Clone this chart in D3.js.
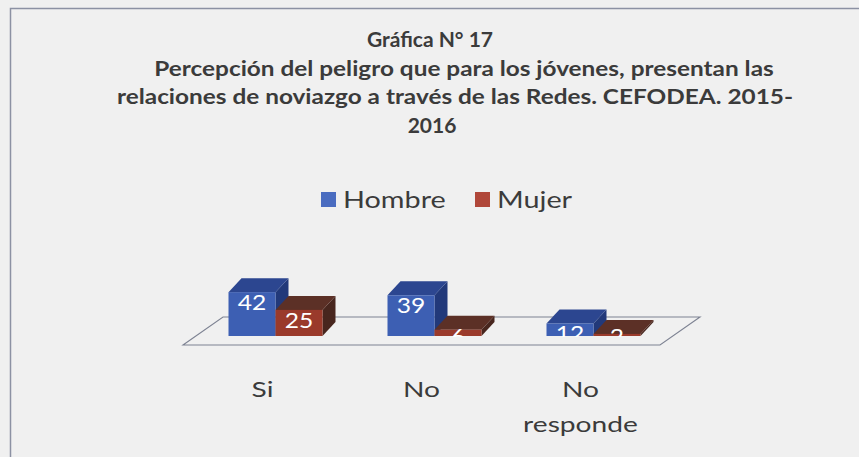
<!DOCTYPE html>
<html>
<head>
<meta charset="utf-8">
<script src="https://cdn.jsdelivr.net/npm/d3@7"></script>
<style>
  html, body { margin: 0; padding: 0; background: #f0f0f0; }
  svg { display: block; }
</style>
</head>
<body>
<div id="chart"></div>
<script>
const categories = ["Si", "No", "No responde"];
const seriesNames = ["Hombre", "Mujer"];
const hombre = [42, 39, 12];
const mujer = [25, 6, 2];
const titleLines = [
  "Gráfica N° 17",
  "Percepción del peligro que para los jóvenes, presentan las",
  "relaciones de noviazgo a través de las Redes. CEFODEA. 2015-",
  "2016"
];

const width = 859,
  height = 457,
  font = "Lato, 'Open Sans', sans-serif",
  textColor = "#3b3b3b";

// the scanned original is stretched sideways, so text gets a horizontal scale
const titleStretch = [1.0, 1.16, 1.16, 1.0],
  titleX = [430, 464, 455, 432],
  stretchText = 1.28,
  stretchLabel = 1.12;

const colors = {
  Hombre: { front: "#3d5fb3", top: "#2c4690", side: "#22397a", legend: "#4a6cc0" },
  Mujer: { front: "#9a3a2b", top: "#5c3026", side: "#48261e", legend: "#b0473a" }
};

const rows = categories.map((c, i) => ({
  cat: c,
  values: [
    { key: "Hombre", value: hombre[i] },
    { key: "Mujer", value: mujer[i] }
  ]
}));

const svg = d3
  .select("#chart")
  .append("svg")
  .attr("width", width)
  .attr("height", height);

svg.append("rect").attr("width", width).attr("height", height).attr("fill", "#f0f0f0");

// frame (only top and left edges are inside the picture)
svg
  .append("path")
  .attr("d", `M10.5,${height}V8.5H${width}`)
  .attr("fill", "none")
  .attr("stroke", "#8c91a3")
  .attr("stroke-width", 1.5);

// title
svg
  .append("g")
  .selectAll("text")
  .data(titleLines)
  .join("text")
  .attr("transform", (d, i) => `translate(${titleX[i]},${47 + i * 28.5}) scale(${titleStretch[i]},1)`)
  .attr("text-anchor", "middle")
  .attr("font-family", font)
  .attr("font-weight", "bold")
  .attr("font-size", 21)
  .attr("fill", textColor)
  .text((d) => d);

// legend
const legend = svg
  .append("g")
  .selectAll("g")
  .data(seriesNames)
  .join("g")
  .attr("transform", (d, i) => `translate(${[321, 475][i]},192)`);
legend
  .append("rect")
  .attr("width", 15)
  .attr("height", 15)
  .attr("fill", (d) => colors[d].legend);
legend
  .append("text")
  .attr("transform", `translate(22,16) scale(${stretchText},1)`)
  .attr("font-family", font)
  .attr("font-size", 22.5)
  .attr("fill", textColor)
  .text((d) => d);

// 3d geometry
const floorY = 345,
  floorDx = 40,
  floorDy = -28,
  depthDx = 13,
  depthDy = -14,
  barShift = 13;

const x0 = d3.scaleBand().domain(categories).range([183, 660]);
const x1 = d3.scaleBand().domain(seriesNames).range([-47, 47]);
const y = d3.scaleLinear().domain([0, 45]).range([336, 289]);

const floor = [
  [183, floorY],
  [660, floorY],
  [660 + floorDx, floorY + floorDy],
  [183 + floorDx, floorY + floorDy]
];
svg
  .append("path")
  .attr("d", d3.line()(floor) + "Z")
  .attr("fill", "none")
  .attr("stroke", "#7d8292")
  .attr("stroke-width", 1.1);

const bars = [];
rows.forEach((r) => {
  r.values.forEach((v) => {
    const xl = x0(r.cat) + x0.bandwidth() / 2 + barShift + x1(v.key);
    bars.push({ cat: r.cat, key: v.key, value: v.value, x: xl, w: x1.bandwidth(), top: y(v.value), base: y(0) });
  });
});

const barG = svg
  .append("g")
  .selectAll("g")
  .data(bars)
  .join("g");

barG
  .append("path")
  .attr("fill", (d) => colors[d.key].side)
  .attr("d", (d) =>
    d3.line()([
      [d.x + d.w, d.base],
      [d.x + d.w, d.top],
      [d.x + d.w + depthDx, d.top + depthDy],
      [d.x + d.w + depthDx, d.base + depthDy]
    ]) + "Z"
  );

barG
  .append("path")
  .attr("fill", (d) => colors[d.key].top)
  .attr("d", (d) =>
    d3.line()([
      [d.x, d.top],
      [d.x + d.w, d.top],
      [d.x + d.w + depthDx, d.top + depthDy],
      [d.x + depthDx, d.top + depthDy]
    ]) + "Z"
  );

barG
  .append("rect")
  .attr("x", (d) => d.x)
  .attr("y", (d) => d.top)
  .attr("width", (d) => d.w)
  .attr("height", (d) => d.base - d.top)
  .attr("fill", (d) => colors[d.key].front);

// data labels, cut at the bar base like the original
svg
  .append("clipPath")
  .attr("id", "labclip")
  .append("rect")
  .attr("x", 0)
  .attr("y", 0)
  .attr("width", width)
  .attr("height", y(0) + 1);

svg
  .append("g")
  .attr("clip-path", "url(#labclip)")
  .selectAll("text")
  .data(bars)
  .join("text")
  .attr("transform", (d) => `translate(${d.x + d.w / 2},${Math.min(d.top + 18, d.base + 8)}) scale(${stretchLabel},1)`)
  .attr("text-anchor", "middle")
  .attr("font-family", font)
  .attr("font-size", 22)
  .attr("fill", "#ffffff")
  .text((d) => d.value);

// category labels
const catG = svg
  .append("g")
  .selectAll("g")
  .data(categories)
  .join("g")
  .attr("transform", (d) => `translate(${x0(d) + x0.bandwidth() / 2},397) scale(${stretchText},1)`);

catG
  .selectAll("text")
  .data((d) => (d === "No responde" ? ["No", "responde"] : [d]))
  .join("text")
  .attr("y", (d, i) => i * 35)
  .attr("text-anchor", "middle")
  .attr("font-family", font)
  .attr("font-size", 22)
  .attr("fill", textColor)
  .text((d) => d);
</script>
</body>
</html>
